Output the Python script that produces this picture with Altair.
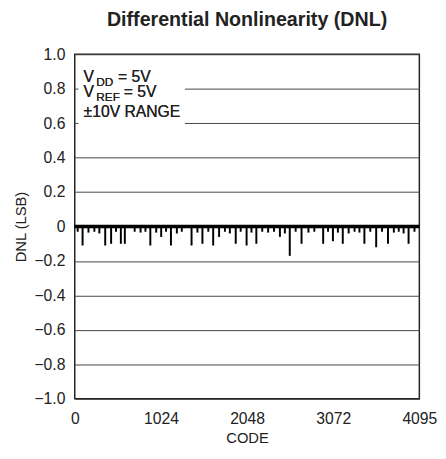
import altair as alt
import pandas as pd

# Spikes of the DNL trace (code, DNL in LSB)
spike_codes = [93, 362, 432, 548, 595, 898, 1027, 1143, 1388, 1517, 1645, 1715,
               1913, 2042, 2158, 2438, 2555, 2695, 2952, 3068, 3185, 3442, 3582,
               3722, 3967,
               35, 163, 233, 292, 490, 712, 782, 840, 968, 1085, 1213, 1272, 1458,
               1587, 1785, 1843, 1972, 2100, 2228, 2298, 2368, 2497, 2625, 2777,
               2847, 3010, 3127, 3255, 3325, 3383, 3512, 3652, 3792, 3850, 3908,
               4037]
spike_dnl = [-0.11, -0.11, -0.10, -0.10, -0.10, -0.11, -0.06, -0.11, -0.11, -0.10,
             -0.11, -0.06, -0.10, -0.11, -0.10, -0.06, -0.17, -0.10, -0.10, -0.085,
             -0.10, -0.10, -0.12, -0.10, -0.10,
             -0.03, -0.035, -0.03, -0.04, -0.03, -0.03, -0.035, -0.03, -0.035,
             -0.03, -0.04, -0.03, -0.035, -0.03, -0.03, -0.04, -0.03, -0.035,
             -0.03, -0.035, -0.03, -0.04, -0.03, -0.035, -0.03, -0.03, -0.035,
             -0.04, -0.03, -0.035, -0.03, -0.03, -0.035, -0.03, -0.04, -0.03]
base_codes = [0, 4095]
base_dnl = [0.0, 0.0]

x_ticks = [0, 1024, 2048, 3072, 4095]
y_ticks = [-1.0, -0.8, -0.6, -0.4, -0.2, 0.0, 0.2, 0.4, 0.6, 0.8, 1.0]

FONT = "Liberation Sans, Arial"

spikes = pd.DataFrame({"code": spike_codes, "dnl": spike_dnl, "zero": 0.0})
base = pd.DataFrame({"code": base_codes, "dnl": base_dnl})

xscale = alt.Scale(domain=[0, 4095], nice=False, zero=False)
yscale = alt.Scale(domain=[-1, 1], nice=False)

xaxis = alt.Axis(values=x_ticks, title="CODE", grid=False, ticks=False, domain=False,
                 format="d", labelOverlap=False, labelFontSize=16, titleFontSize=15,
                 labelPadding=12, titlePadding=4, labelFont=FONT, titleFont=FONT,
                 labelColor="#222", titleColor="#222", titleFontWeight="normal",
                 labelFlush=False)
yaxis = alt.Axis(values=y_ticks, title="DNL (LSB)", grid=True, gridColor="#444",
                 gridWidth=1, ticks=False, domain=False, labelOverlap=False,
                 labelFontSize=16, titleFontSize=15, labelPadding=10, titlePadding=6,
                 labelFont=FONT, titleFont=FONT, labelColor="#222", titleColor="#222",
                 titleFontWeight="normal", labelFlush=False,
                 labelExpr="datum.value == 0 ? '0' : replace(format(datum.value, '.1f'), '-', '\u2013')")

X = lambda f: alt.X(f, scale=xscale, axis=xaxis)
Y = lambda f: alt.Y(f, scale=yscale, axis=yaxis)

grid_layer = alt.Chart(base).mark_point(opacity=0).encode(x=X("code:Q"), y=Y("dnl:Q"))

box = alt.Chart(base).mark_rect(color="white").encode(
    x=alt.value(4), x2=alt.value(112), y=alt.value(2), y2=alt.value(80)
)

baseline = alt.Chart(base).mark_line(color="black", strokeWidth=3.5).encode(
    x=X("code:Q"), y=Y("dnl:Q")
)

spike_layer = alt.Chart(spikes).mark_rule(color="black", strokeWidth=2).encode(
    x=X("code:Q"), y=Y("zero:Q"), y2="dnl:Q"
)

def txt(s, x, y, size):
    return alt.Chart(base).mark_text(text=s, align="left", baseline="alphabetic",
                                     font=FONT, fontSize=size, color="#222").encode(
        x=alt.value(x), y=alt.value(y))

ann = [
    txt("V", 9, 28, 16), txt("DD", 22, 32, 12), txt("= 5V", 44, 28, 16),
    txt("V", 9, 44, 16), txt("REF", 22, 48, 12), txt("= 5V", 50, 44, 16),
    txt("\u00b110V RANGE", 9, 64, 16),
]

chart = alt.layer(grid_layer, box, baseline, spike_layer, *ann).properties(
    width=351, height=351,
    title=alt.TitleParams("Differential Nonlinearity (DNL)", fontSize=20,
                          fontWeight="bold", font=FONT, anchor="middle",
                          frame="group", offset=17, color="#222"),
    autosize="none",
    padding={"left": 68, "top": 43, "right": 19, "bottom": 49},
).configure_view(stroke="#222", strokeWidth=1.5)

chart.save("out.html", embed_options={"renderer": "svg", "actions": False})
